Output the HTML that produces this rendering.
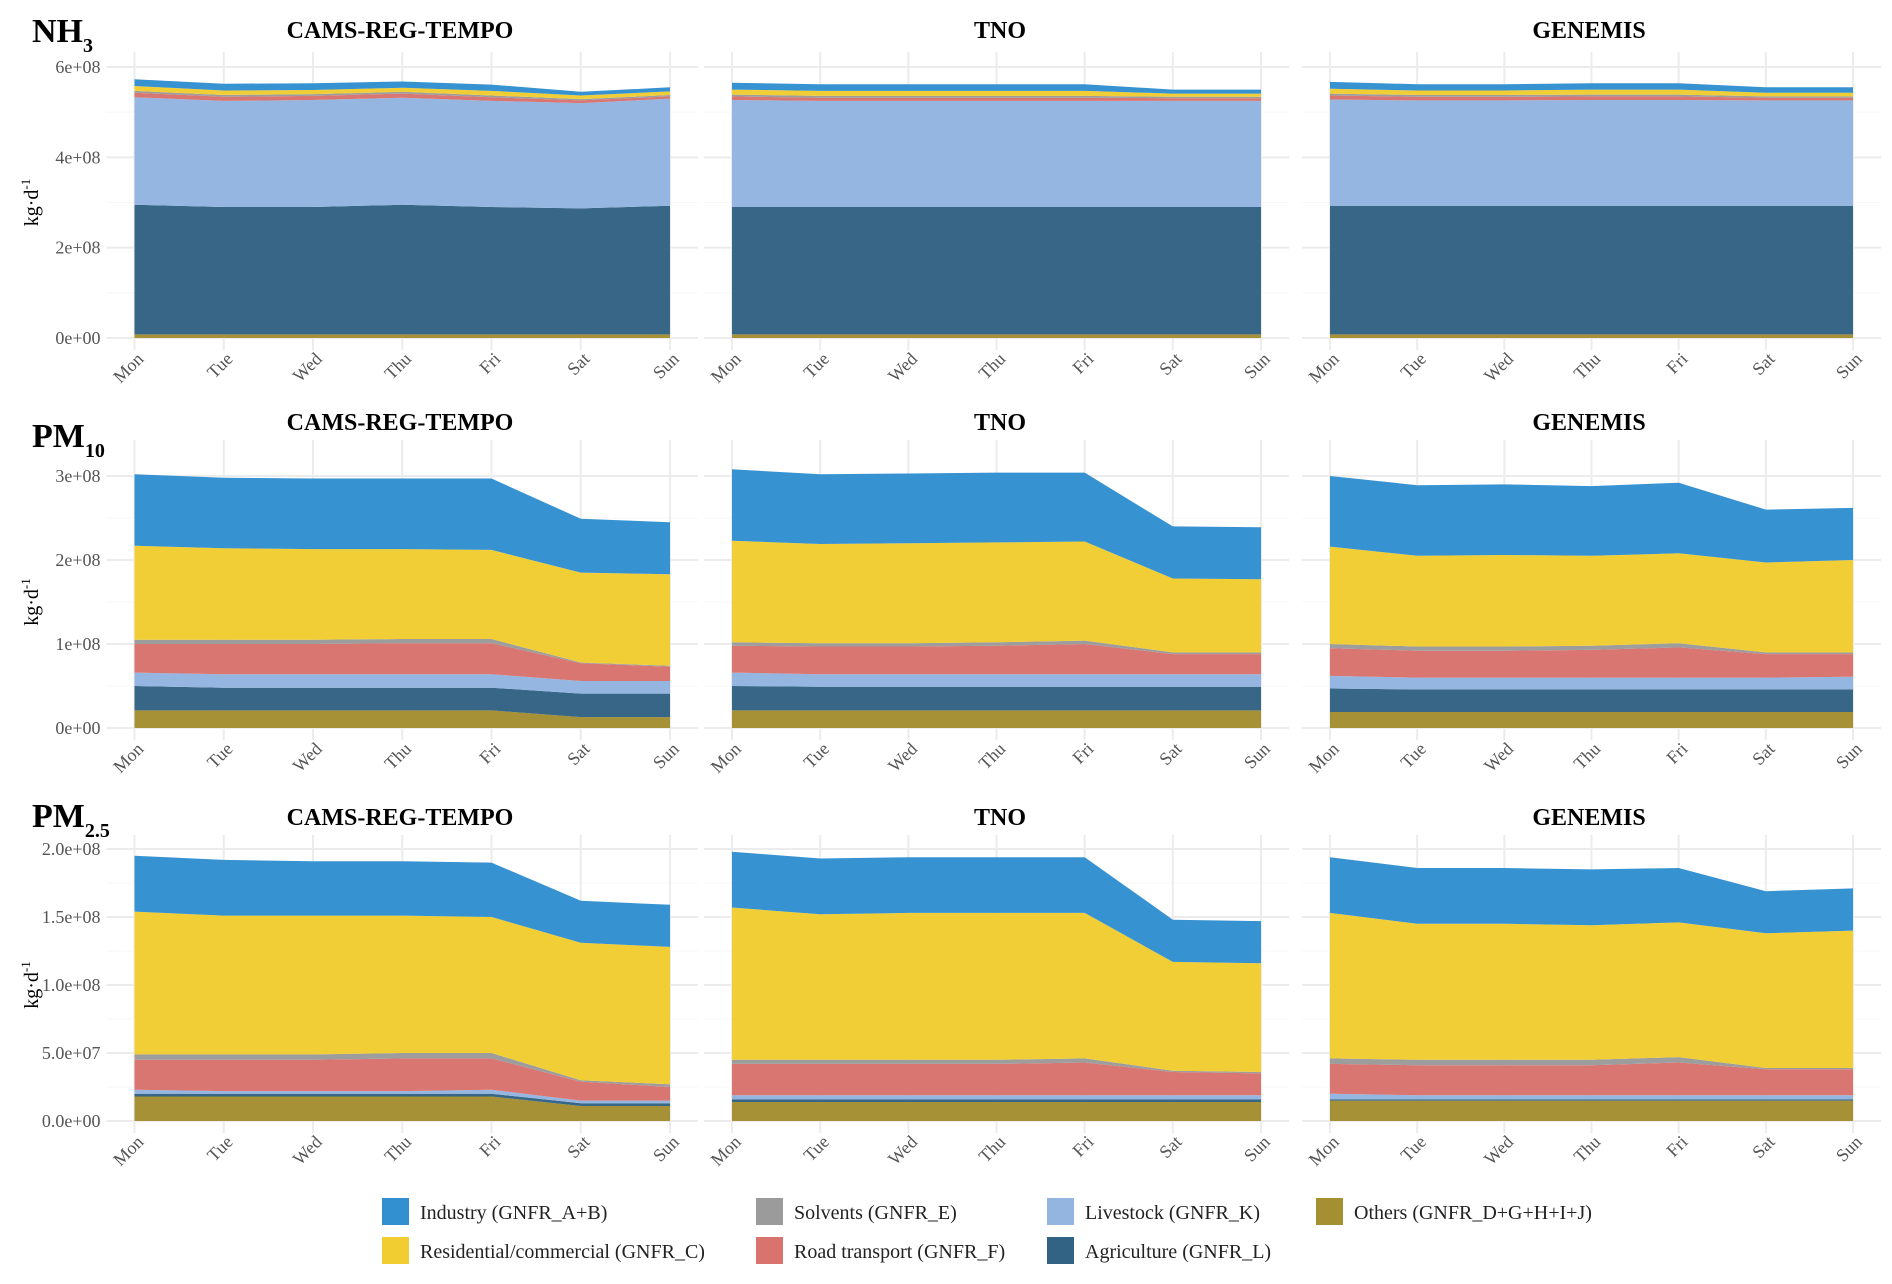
<!DOCTYPE html>
<html><head><meta charset="utf-8"><style>
body{margin:0;background:#fff}
svg{display:block;font-family:"Liberation Serif",serif}
</style></head><body>
<svg id="chart" width="1892" height="1284" viewBox="0 0 1892 1284"></svg>
<script>
const days = ["Mon","Tue","Wed","Thu","Fri","Sat","Sun"];
const sectorNames = ["Others (GNFR_D+G+H+I+J)","Agriculture (GNFR_L)","Livestock (GNFR_K)","Road transport (GNFR_F)","Solvents (GNFR_E)","Residential/commercial (GNFR_C)","Industry (GNFR_A+B)"];
const inventories = ["CAMS-REG-TEMPO","TNO","GENEMIS"];
// cumulative tops (units of 1e8 kg/d), order: others, agri, livestock, road, solvents, residential, industry
const nh3Cams = [[0.08,0.08,0.08,0.08,0.08,0.08,0.08],[2.95,2.90,2.90,2.95,2.90,2.87,2.93],[5.33,5.25,5.27,5.32,5.25,5.20,5.30],[5.43,5.34,5.36,5.41,5.33,5.26,5.35],[5.47,5.38,5.40,5.45,5.37,5.29,5.38],[5.58,5.48,5.49,5.54,5.47,5.37,5.46],[5.73,5.63,5.64,5.68,5.61,5.45,5.55]];
const nh3Tno = [[0.08,0.08,0.08,0.08,0.08,0.08,0.08],[2.90,2.90,2.90,2.90,2.90,2.90,2.90],[5.27,5.25,5.25,5.25,5.25,5.25,5.25],[5.35,5.32,5.32,5.32,5.32,5.31,5.31],[5.39,5.36,5.36,5.36,5.36,5.34,5.34],[5.50,5.47,5.47,5.47,5.47,5.41,5.41],[5.65,5.62,5.62,5.62,5.62,5.50,5.50]];
const nh3Gen = [[0.08,0.08,0.08,0.08,0.08,0.08,0.08],[2.93,2.93,2.93,2.93,2.93,2.93,2.93],[5.28,5.26,5.26,5.27,5.27,5.26,5.26],[5.37,5.34,5.34,5.35,5.35,5.32,5.32],[5.41,5.38,5.38,5.39,5.39,5.35,5.35],[5.52,5.48,5.48,5.50,5.50,5.43,5.43],[5.67,5.62,5.62,5.64,5.64,5.55,5.55]];
const pm10Cams = [[0.21,0.21,0.21,0.21,0.21,0.13,0.13],[0.50,0.48,0.48,0.48,0.48,0.41,0.41],[0.66,0.64,0.64,0.64,0.64,0.56,0.56],[1.00,1.00,1.00,1.01,1.01,0.77,0.73],[1.05,1.05,1.05,1.06,1.06,0.78,0.74],[2.17,2.14,2.13,2.13,2.12,1.85,1.83],[3.02,2.98,2.97,2.97,2.97,2.49,2.45]];
const pm10Tno = [[0.21,0.21,0.21,0.21,0.21,0.21,0.21],[0.50,0.49,0.49,0.49,0.49,0.49,0.49],[0.66,0.64,0.64,0.64,0.64,0.64,0.64],[0.98,0.97,0.97,0.98,1.00,0.88,0.88],[1.02,1.01,1.01,1.02,1.04,0.90,0.90],[2.23,2.19,2.20,2.21,2.22,1.78,1.77],[3.08,3.02,3.03,3.04,3.04,2.40,2.39]];
const pm10Gen = [[0.19,0.19,0.19,0.19,0.19,0.19,0.19],[0.47,0.46,0.46,0.46,0.46,0.46,0.46],[0.62,0.60,0.60,0.60,0.60,0.60,0.61],[0.95,0.92,0.92,0.93,0.96,0.88,0.88],[1.00,0.97,0.97,0.98,1.01,0.90,0.90],[2.16,2.05,2.06,2.05,2.08,1.97,2.00],[3.00,2.89,2.90,2.88,2.92,2.60,2.62]];
const pm25Cams = [[0.18,0.18,0.18,0.18,0.18,0.11,0.11],[0.20,0.20,0.20,0.20,0.20,0.13,0.13],[0.23,0.22,0.22,0.22,0.23,0.15,0.15],[0.45,0.45,0.45,0.46,0.46,0.29,0.25],[0.49,0.49,0.49,0.50,0.50,0.30,0.27],[1.54,1.51,1.51,1.51,1.50,1.31,1.28],[1.95,1.92,1.91,1.91,1.90,1.62,1.59]];
const pm25Tno = [[0.14,0.14,0.14,0.14,0.14,0.14,0.14],[0.16,0.16,0.16,0.16,0.16,0.16,0.16],[0.19,0.19,0.19,0.19,0.19,0.19,0.19],[0.42,0.42,0.42,0.42,0.43,0.36,0.35],[0.45,0.45,0.45,0.45,0.46,0.37,0.36],[1.57,1.52,1.53,1.53,1.53,1.17,1.16],[1.98,1.93,1.94,1.94,1.94,1.48,1.47]];
const pm25Gen = [[0.15,0.15,0.15,0.15,0.15,0.15,0.15],[0.16,0.16,0.16,0.16,0.16,0.16,0.16],[0.20,0.19,0.19,0.19,0.19,0.19,0.19],[0.42,0.41,0.41,0.41,0.43,0.38,0.38],[0.46,0.45,0.45,0.45,0.47,0.39,0.39],[1.53,1.45,1.45,1.44,1.46,1.38,1.40],[1.94,1.86,1.86,1.85,1.86,1.69,1.71]];
const nh3Ticks = [0,2,4,6];
const nh3TickLabels = ["0e+00","2e+08","4e+08","6e+08"];
const pm10Ticks = [0,1,2,3];
const pm10TickLabels = ["0e+00","1e+08","2e+08","3e+08"];
const pm25Ticks = [0,0.5,1,1.5,2];
const pm25TickLabels = ["0.0e+00","5.0e+07","1.0e+08","1.5e+08","2.0e+08"];

const colors = ["#a48f33","#336384","#93b5e0","#d9736e","#9b9b9b","#f2cd32","#3390d0"];
const NS="http://www.w3.org/2000/svg";
const svg=document.getElementById('chart');
function mk(tag,attrs,parent){const e=document.createElementNS(NS,tag);for(const k in attrs)e.setAttribute(k,attrs[k]);(parent||svg).appendChild(e);return e;}

const cols=[{x0:134.5,x1:670},{x0:732,x1:1261},{x0:1330,x1:1853}];
const rows=[
 {name:"nh3",label:"NH",sub:"3",top:6,yTop:67,y0:338,ticks:nh3Ticks,tl:nh3TickLabels,data:[nh3Cams,nh3Tno,nh3Gen],titleY:38,labY:42,gridTop:52},
 {name:"pm10",label:"PM",sub:"10",top:3,yTop:476,y0:728,ticks:pm10Ticks,tl:pm10TickLabels,data:[pm10Cams,pm10Tno,pm10Gen],titleY:430,labY:447,gridTop:440},
 {name:"pm25",label:"PM",sub:"2.5",top:2,yTop:849,y0:1121,ticks:pm25Ticks,tl:pm25TickLabels,data:[pm25Cams,pm25Tno,pm25Gen],titleY:825,labY:827,gridTop:835}
];
const titleX=[400,1000,1589];

rows.forEach((r,ri)=>{
  const yS=v=>r.y0-(v/r.top)*(r.y0-r.yTop);
  const lab=mk('text',{x:32,y:r.labY,'font-size':34,'font-weight':'bold',fill:'#000'});
  
  
  lab.textContent=r.label;
  const ts=mk('tspan',{'font-size':20,dy:10},lab);ts.textContent=r.sub;
  const yt=mk('text',{x:0,y:0,'font-size':20,fill:'#000','text-anchor':'middle',transform:`translate(38,${(r.y0+r.yTop)/2}) rotate(-90)`});
  
  
  yt.textContent='kg·d';
  const sp=mk('tspan',{'font-size':13,dy:-8},yt);sp.textContent='-1';
  cols.forEach((c,ci)=>{
    const xS=i=>c.x0+i*(c.x1-c.x0)/6;
    const g=mk('g',{});
    
    
    const gl=c.x0-28, gr=c.x1+28;
    for(let k=0;k<r.ticks.length-1;k++){const y=yS((r.ticks[k]+r.ticks[k+1])/2);mk('line',{x1:gl,x2:gr,y1:y,y2:y,stroke:'#f7f7f7','stroke-width':1},g);}
    r.ticks.forEach((t,k)=>{const y=yS(t);const l=mk('line',{x1:gl,x2:gr,y1:y,y2:y,stroke:'#ececec','stroke-width':2},g);
      
      if(ci===0){const tx=mk('text',{x:c.x0-34,y:y+6,'font-size':18,fill:'#555','text-anchor':'end'},g);
        tx.textContent=r.tl[k];}
    });
    days.forEach((d,i)=>{const x=xS(i);mk('line',{x1:x,x2:x,y1:r.gridTop,y2:r.y0+12,stroke:'#ececec','stroke-width':2},g);
      const tx=mk('text',{x:0,y:0,'font-size':18,fill:'#555','text-anchor':'end',transform:`translate(${x+10},${r.y0+22}) rotate(-45)`},g);
      tx.textContent=d;});
    const data=r.data[ci];
    data.forEach((tops,si)=>{
      const bottoms=si===0?days.map(()=>0):data[si-1];
      let p='M';
      tops.forEach((v,i)=>{p+=(i?'L':'')+xS(i).toFixed(1)+','+yS(v).toFixed(1);});
      for(let i=6;i>=0;i--)p+='L'+xS(i).toFixed(1)+','+yS(bottoms[i]).toFixed(1);
      const a=mk('path',{d:p+'Z',fill:colors[si],'fill-opacity':0.98},g);
      
      
    });
    const tt=mk('text',{x:titleX[ci],y:r.titleY,'font-size':24,'font-weight':'bold','text-anchor':'middle',fill:'#000'},g);
    tt.textContent=inventories[ci];
  });
});
const legendItems=[[6,382,1198],[4,756,1198],[2,1047,1198],[0,1316,1198],[5,382,1237],[3,756,1237],[1,1047,1237]];
legendItems.forEach(([si,x,y])=>{
  const g=mk('g',{});
  
  
  mk('rect',{x:x,y:y,width:27,height:27,fill:colors[si]},g);
  const t=mk('text',{x:x+38,y:y+21,'font-size':20,fill:'#222'},g);t.textContent=sectorNames[si];
});
</script>
</body></html>
